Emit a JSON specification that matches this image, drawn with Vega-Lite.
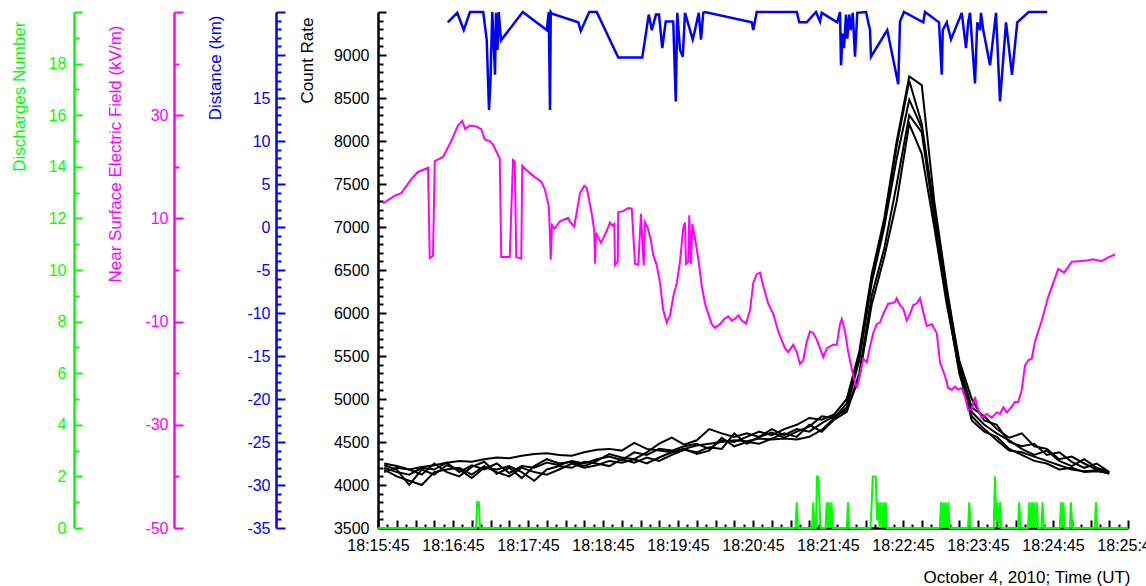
{
  "$schema": "https://vega.github.io/schema/vega-lite/v6.json",
  "width": 750,
  "height": 516,
  "autosize": "none",
  "padding": {"left": 378, "top": 12, "right": 18, "bottom": 58},
  "background": "white",
  "config": {
    "view": {"stroke": null},
    "axis": {"labelFont": "Liberation Sans", "titleFont": "Liberation Sans", "labelFontSize": 16, "titleFontSize": 17, "titleFontWeight": "normal", "grid": false, "domainWidth": 2.5, "tickWidth": 2, "labelOverlap": false, "labelBound": false}
  },
  "datasets": {
    "rate": [
      {"id":1,"s":5,"r":4200},{"id":1,"s":15,"r":4150},{"id":1,"s":25,"r":4120},{"id":1,"s":35,"r":4200},{"id":1,"s":45,"r":4180},{"id":1,"s":55,"r":4260},{"id":1,"s":65,"r":4150},{"id":1,"s":75,"r":4230},{"id":1,"s":85,"r":4180},{"id":1,"s":95,"r":4250},
      {"id":1,"s":105,"r":4140},{"id":1,"s":115,"r":4220},{"id":1,"s":125,"r":4200},{"id":1,"s":135,"r":4260},{"id":1,"s":145,"r":4230},{"id":1,"s":155,"r":4280},{"id":1,"s":165,"r":4250},{"id":1,"s":175,"r":4300},{"id":1,"s":185,"r":4330},{"id":1,"s":195,"r":4290},
      {"id":1,"s":205,"r":4380},{"id":1,"s":215,"r":4350},{"id":1,"s":225,"r":4420},{"id":1,"s":235,"r":4400},{"id":1,"s":245,"r":4450},{"id":1,"s":255,"r":4480},{"id":1,"s":265,"r":4420},{"id":1,"s":275,"r":4520},{"id":1,"s":285,"r":4500},{"id":1,"s":295,"r":4560},
      {"id":1,"s":305,"r":4620},{"id":1,"s":315,"r":4580},{"id":1,"s":325,"r":4650},{"id":1,"s":335,"r":4700},{"id":1,"s":345,"r":4780},{"id":1,"s":355,"r":4760},{"id":1,"s":365,"r":4820},{"id":1,"s":375,"r":5000},{"id":1,"s":385,"r":5550},{"id":1,"s":395,"r":6450},
      {"id":1,"s":405,"r":7100},{"id":1,"s":415,"r":8000},{"id":1,"s":425,"r":8750},{"id":1,"s":435,"r":8650},{"id":1,"s":445,"r":7300},{"id":1,"s":455,"r":6300},{"id":1,"s":465,"r":5400},{"id":1,"s":475,"r":4900},{"id":1,"s":485,"r":4800},{"id":1,"s":495,"r":4650},
      {"id":1,"s":505,"r":4550},{"id":1,"s":515,"r":4600},{"id":1,"s":525,"r":4450},{"id":1,"s":535,"r":4420},{"id":1,"s":545,"r":4300},{"id":1,"s":555,"r":4330},{"id":1,"s":565,"r":4250},{"id":1,"s":575,"r":4180},{"id":1,"s":585,"r":4140},

      {"id":2,"s":5,"r":4150},{"id":2,"s":15,"r":4200},{"id":2,"s":25,"r":4180},{"id":2,"s":35,"r":4120},{"id":2,"s":45,"r":4250},{"id":2,"s":55,"r":4150},{"id":2,"s":65,"r":4100},{"id":2,"s":75,"r":4210},{"id":2,"s":85,"r":4270},{"id":2,"s":95,"r":4130},
      {"id":2,"s":105,"r":4200},{"id":2,"s":115,"r":4080},{"id":2,"s":125,"r":4220},{"id":2,"s":135,"r":4300},{"id":2,"s":145,"r":4250},{"id":2,"s":155,"r":4270},{"id":2,"s":165,"r":4220},{"id":2,"s":175,"r":4280},{"id":2,"s":185,"r":4360},{"id":2,"s":195,"r":4320},
      {"id":2,"s":205,"r":4300},{"id":2,"s":215,"r":4380},{"id":2,"s":225,"r":4480},{"id":2,"s":235,"r":4550},{"id":2,"s":245,"r":4470},{"id":2,"s":255,"r":4520},{"id":2,"s":265,"r":4650},{"id":2,"s":275,"r":4600},{"id":2,"s":285,"r":4560},{"id":2,"s":295,"r":4600},
      {"id":2,"s":305,"r":4560},{"id":2,"s":315,"r":4610},{"id":2,"s":325,"r":4550},{"id":2,"s":335,"r":4620},{"id":2,"s":345,"r":4680},{"id":2,"s":355,"r":4800},{"id":2,"s":365,"r":4780},{"id":2,"s":375,"r":4950},{"id":2,"s":385,"r":5500},{"id":2,"s":395,"r":6400},
      {"id":2,"s":405,"r":7050},{"id":2,"s":415,"r":7950},{"id":2,"s":425,"r":8700},{"id":2,"s":435,"r":8200},{"id":2,"s":445,"r":7200},{"id":2,"s":455,"r":6250},{"id":2,"s":465,"r":5450},{"id":2,"s":475,"r":5000},{"id":2,"s":485,"r":4750},{"id":2,"s":495,"r":4700},
      {"id":2,"s":505,"r":4500},{"id":2,"s":515,"r":4450},{"id":2,"s":525,"r":4480},{"id":2,"s":535,"r":4350},{"id":2,"s":545,"r":4380},{"id":2,"s":555,"r":4270},{"id":2,"s":565,"r":4200},{"id":2,"s":575,"r":4250},{"id":2,"s":585,"r":4150},

      {"id":3,"s":5,"r":4250},{"id":3,"s":15,"r":4220},{"id":3,"s":25,"r":4180},{"id":3,"s":35,"r":4210},{"id":3,"s":45,"r":4230},{"id":3,"s":55,"r":4260},{"id":3,"s":65,"r":4280},{"id":3,"s":75,"r":4270},{"id":3,"s":85,"r":4300},{"id":3,"s":95,"r":4320},
      {"id":3,"s":105,"r":4310},{"id":3,"s":115,"r":4340},{"id":3,"s":125,"r":4360},{"id":3,"s":135,"r":4370},{"id":3,"s":145,"r":4350},{"id":3,"s":155,"r":4340},{"id":3,"s":165,"r":4380},{"id":3,"s":175,"r":4410},{"id":3,"s":185,"r":4420},{"id":3,"s":195,"r":4400},
      {"id":3,"s":205,"r":4490},{"id":3,"s":215,"r":4420},{"id":3,"s":225,"r":4400},{"id":3,"s":235,"r":4380},{"id":3,"s":245,"r":4420},{"id":3,"s":255,"r":4460},{"id":3,"s":265,"r":4480},{"id":3,"s":275,"r":4500},{"id":3,"s":285,"r":4520},{"id":3,"s":295,"r":4510},
      {"id":3,"s":305,"r":4540},{"id":3,"s":315,"r":4530},{"id":3,"s":325,"r":4540},{"id":3,"s":335,"r":4530},{"id":3,"s":345,"r":4560},{"id":3,"s":355,"r":4640},{"id":3,"s":365,"r":4780},{"id":3,"s":375,"r":4900},{"id":3,"s":385,"r":5450},{"id":3,"s":395,"r":6350},
      {"id":3,"s":405,"r":7000},{"id":3,"s":415,"r":7800},{"id":3,"s":425,"r":8480},{"id":3,"s":435,"r":8150},{"id":3,"s":445,"r":7150},{"id":3,"s":455,"r":6200},{"id":3,"s":465,"r":5380},{"id":3,"s":475,"r":4850},{"id":3,"s":485,"r":4700},{"id":3,"s":495,"r":4600},
      {"id":3,"s":505,"r":4520},{"id":3,"s":515,"r":4420},{"id":3,"s":525,"r":4350},{"id":3,"s":535,"r":4400},{"id":3,"s":545,"r":4280},{"id":3,"s":555,"r":4220},{"id":3,"s":565,"r":4300},{"id":3,"s":575,"r":4200},{"id":3,"s":585,"r":4150},

      {"id":4,"s":5,"r":4180},{"id":4,"s":15,"r":4100},{"id":4,"s":25,"r":4050},{"id":4,"s":35,"r":4000},{"id":4,"s":45,"r":4150},{"id":4,"s":55,"r":4180},{"id":4,"s":65,"r":4200},{"id":4,"s":75,"r":4120},{"id":4,"s":85,"r":4220},{"id":4,"s":95,"r":4150},
      {"id":4,"s":105,"r":4100},{"id":4,"s":115,"r":4200},{"id":4,"s":125,"r":4150},{"id":4,"s":135,"r":4120},{"id":4,"s":145,"r":4180},{"id":4,"s":155,"r":4250},{"id":4,"s":165,"r":4200},{"id":4,"s":175,"r":4230},{"id":4,"s":185,"r":4280},{"id":4,"s":195,"r":4260},
      {"id":4,"s":205,"r":4300},{"id":4,"s":215,"r":4250},{"id":4,"s":225,"r":4320},{"id":4,"s":235,"r":4380},{"id":4,"s":245,"r":4420},{"id":4,"s":255,"r":4360},{"id":4,"s":265,"r":4400},{"id":4,"s":275,"r":4550},{"id":4,"s":285,"r":4450},{"id":4,"s":295,"r":4500},
      {"id":4,"s":305,"r":4480},{"id":4,"s":315,"r":4540},{"id":4,"s":325,"r":4600},{"id":4,"s":335,"r":4560},{"id":4,"s":345,"r":4700},{"id":4,"s":355,"r":4620},{"id":4,"s":365,"r":4760},{"id":4,"s":375,"r":4850},{"id":4,"s":385,"r":5300},{"id":4,"s":395,"r":6200},
      {"id":4,"s":405,"r":6750},{"id":4,"s":415,"r":7500},{"id":4,"s":425,"r":8300},{"id":4,"s":435,"r":8100},{"id":4,"s":445,"r":7100},{"id":4,"s":455,"r":6150},{"id":4,"s":465,"r":5300},{"id":4,"s":475,"r":4800},{"id":4,"s":485,"r":4650},{"id":4,"s":495,"r":4520},
      {"id":4,"s":505,"r":4400},{"id":4,"s":515,"r":4380},{"id":4,"s":525,"r":4330},{"id":4,"s":535,"r":4280},{"id":4,"s":545,"r":4230},{"id":4,"s":555,"r":4180},{"id":4,"s":565,"r":4160},{"id":4,"s":575,"r":4170},{"id":4,"s":585,"r":4130},

      {"id":5,"s":5,"r":4230},{"id":5,"s":15,"r":4180},{"id":5,"s":25,"r":4000},{"id":5,"s":35,"r":4180},{"id":5,"s":45,"r":4120},{"id":5,"s":55,"r":4230},{"id":5,"s":65,"r":4180},{"id":5,"s":75,"r":4080},{"id":5,"s":85,"r":4200},{"id":5,"s":95,"r":4180},
      {"id":5,"s":105,"r":4220},{"id":5,"s":115,"r":4150},{"id":5,"s":125,"r":4050},{"id":5,"s":135,"r":4180},{"id":5,"s":145,"r":4220},{"id":5,"s":155,"r":4200},{"id":5,"s":165,"r":4270},{"id":5,"s":175,"r":4250},{"id":5,"s":185,"r":4220},{"id":5,"s":195,"r":4300},
      {"id":5,"s":205,"r":4260},{"id":5,"s":215,"r":4320},{"id":5,"s":225,"r":4280},{"id":5,"s":235,"r":4350},{"id":5,"s":245,"r":4410},{"id":5,"s":255,"r":4380},{"id":5,"s":265,"r":4440},{"id":5,"s":275,"r":4420},{"id":5,"s":285,"r":4600},{"id":5,"s":295,"r":4480},
      {"id":5,"s":305,"r":4560},{"id":5,"s":315,"r":4650},{"id":5,"s":325,"r":4580},{"id":5,"s":335,"r":4650},{"id":5,"s":345,"r":4620},{"id":5,"s":355,"r":4720},{"id":5,"s":365,"r":4800},{"id":5,"s":375,"r":4870},{"id":5,"s":385,"r":5250},{"id":5,"s":395,"r":6100},
      {"id":5,"s":405,"r":6650},{"id":5,"s":415,"r":7300},{"id":5,"s":425,"r":8200},{"id":5,"s":435,"r":7850},{"id":5,"s":445,"r":7000},{"id":5,"s":455,"r":6100},{"id":5,"s":465,"r":5350},{"id":5,"s":475,"r":4750},{"id":5,"s":485,"r":4620},{"id":5,"s":495,"r":4560},
      {"id":5,"s":505,"r":4420},{"id":5,"s":515,"r":4350},{"id":5,"s":525,"r":4280},{"id":5,"s":535,"r":4250},{"id":5,"s":545,"r":4180},{"id":5,"s":555,"r":4200},{"id":5,"s":565,"r":4150},{"id":5,"s":575,"r":4160},{"id":5,"s":585,"r":4140}
    ],
    "field": [
      {"s":4,"v":12.9},{"s":13.4,"v":14.4},{"s":18.6,"v":14.9},{"s":26.6,"v":17.6},{"s":32,"v":19},{"s":40,"v":19.8},{"s":41.4,"v":2.3},{"s":44,"v":2.7},{"s":45.4,"v":21.1},{"s":52,"v":21.9},
      {"s":58.6,"v":25},{"s":64,"v":28},{"s":67.4,"v":28.9},{"s":69.8,"v":27.3},{"s":73.4,"v":28},{"s":78.6,"v":27.8},{"s":82.6,"v":27.3},{"s":85.4,"v":25.3},{"s":89.4,"v":25},{"s":92,"v":24.3},
      {"s":97.4,"v":21.6},{"s":98.6,"v":2.5},{"s":105.4,"v":2.5},{"s":108,"v":21.3},{"s":109.4,"v":21},{"s":110.6,"v":2.5},{"s":114.6,"v":2.2},{"s":115.4,"v":20.2},{"s":118.6,"v":19.4},{"s":125.4,"v":18},
      {"s":130.6,"v":17.1},{"s":133.4,"v":15.7},{"s":136.6,"v":12.4},{"s":137.2,"v":9.1},{"s":138.2,"v":2},{"s":139.2,"v":8.7},{"s":141.4,"v":8},{"s":145.4,"v":9.4},{"s":152,"v":10.1},{"s":153.6,"v":9.3},
      {"s":157,"v":8.4},{"s":161.6,"v":14.9},{"s":165,"v":16.3},{"s":167,"v":15.9},{"s":171,"v":10.9},{"s":173,"v":7.6},{"s":173.6,"v":1.2},{"s":174.4,"v":7.2},{"s":178.4,"v":5.3},{"s":183,"v":7.6},
      {"s":185.6,"v":9.2},{"s":187.4,"v":8.6},{"s":189,"v":8.9},{"s":189.6,"v":1},{"s":191.8,"v":1.6},{"s":192.2,"v":11.2},{"s":196.2,"v":11.4},{"s":200.2,"v":12},{"s":203,"v":11.9},{"s":205.6,"v":1.2},
      {"s":208.2,"v":1},{"s":210.4,"v":10.9},{"s":211.4,"v":5.6},{"s":212.6,"v":0.9},{"s":213.6,"v":9.2},{"s":215.8,"v":8.2},{"s":218.4,"v":5.6},{"s":220.2,"v":2.9},{"s":223,"v":0.9},{"s":225.6,"v":-2.5},
      {"s":228.2,"v":-7.8},{"s":231,"v":-10.2},{"s":233.6,"v":-8.8},{"s":236.2,"v":-5.2},{"s":239,"v":-2.5},{"s":241.6,"v":1.6},{"s":244.2,"v":8.2},{"s":245.6,"v":9.2},{"s":246.4,"v":1.2},{"s":248.2,"v":1.6},
      {"s":249,"v":10.6},{"s":250.4,"v":1.2},{"s":251.4,"v":8.9},{"s":253.6,"v":6.2},{"s":256.2,"v":2.2},{"s":259,"v":-3.1},{"s":261.6,"v":-6.5},{"s":264.2,"v":-8.5},{"s":267,"v":-10.5},{"s":269.6,"v":-11.2},
      {"s":273.6,"v":-10.5},{"s":277,"v":-9.5},{"s":280.2,"v":-9},{"s":283,"v":-9.8},{"s":285.6,"v":-9.5},{"s":288.2,"v":-8.8},{"s":291,"v":-9.8},{"s":294.4,"v":-10.4},{"s":297.6,"v":-7.8},{"s":300.2,"v":-2.5},
      {"s":303,"v":-0.8},{"s":305.6,"v":-0.5},{"s":308.2,"v":-3.1},{"s":312.2,"v":-6.5},{"s":316.2,"v":-8.5},{"s":320.2,"v":-11.9},{"s":325.6,"v":-15.2},{"s":328.2,"v":-15.9},{"s":332.2,"v":-14.5},{"s":335,"v":-15.9},
      {"s":337.6,"v":-18.2},{"s":340.2,"v":-17.5},{"s":343,"v":-13.9},{"s":345.6,"v":-11.9},{"s":348.2,"v":-12.2},{"s":351,"v":-13.5},{"s":353.6,"v":-15.2},{"s":356.2,"v":-16.9},{"s":359,"v":-15.2},{"s":361.6,"v":-14.8},
      {"s":364.2,"v":-14.5},{"s":367,"v":-14.5},{"s":369.6,"v":-10.5},{"s":371,"v":-9.5},{"s":373.6,"v":-11.9},{"s":376.2,"v":-15.9},{"s":380.2,"v":-20.5},{"s":383,"v":-22.9},{"s":385.6,"v":-20.2},{"s":388.2,"v":-17.2},
      {"s":391,"v":-17.9},{"s":393.6,"v":-14.8},{"s":396.2,"v":-12.2},{"s":399,"v":-10.5},{"s":401.6,"v":-10.2},{"s":404.2,"v":-8.5},{"s":408.2,"v":-6.5},{"s":411,"v":-6.5},{"s":413.6,"v":-6.2},{"s":415,"v":-5.5},
      {"s":417.6,"v":-6.8},{"s":420.2,"v":-7.5},{"s":423,"v":-9.8},{"s":425.6,"v":-8.5},{"s":428.2,"v":-6.8},{"s":431,"v":-6.5},{"s":433.6,"v":-5.5},{"s":436.2,"v":-8.2},{"s":439,"v":-10.9},{"s":443,"v":-10.5},
      {"s":447,"v":-12.2},{"s":449.6,"v":-17.9},{"s":453.6,"v":-20.5},{"s":456.2,"v":-22.9},{"s":459,"v":-23.2},{"s":461.6,"v":-22.6},{"s":464.2,"v":-23.2},{"s":467,"v":-22.9},{"s":469.6,"v":-24.6},{"s":472.2,"v":-27.2},
      {"s":475,"v":-26.9},{"s":477.6,"v":-24.6},{"s":480.2,"v":-27.2},{"s":483,"v":-28.6},{"s":487,"v":-27.9},{"s":491,"v":-28.6},{"s":495,"v":-27.6},{"s":497.6,"v":-27.9},{"s":500.2,"v":-26.6},{"s":503,"v":-27.6},
      {"s":505.6,"v":-26.9},{"s":509.6,"v":-25.6},{"s":512.2,"v":-25.6},{"s":515,"v":-23.2},{"s":517.6,"v":-18.5},{"s":520.2,"v":-17.5},{"s":523,"v":-17.2},{"s":525.6,"v":-13.9},{"s":531,"v":-9.8},{"s":536.2,"v":-5.2},
      {"s":540.2,"v":-2.5},{"s":544.2,"v":0.2},{"s":549,"v":-0.5},{"s":555,"v":1.6},{"s":560.2,"v":1.7},{"s":568.2,"v":1.9},{"s":572.2,"v":2.1},{"s":579,"v":1.7},{"s":584.6,"v":2.5},{"s":589.6,"v":3}
    ],
    "dist": [
      {"s":55.8,"k":23.8},{"s":63.4,"k":24.9},{"s":68.6,"k":22.9},{"s":73.6,"k":25},{"s":84.2,"k":25},{"s":87,"k":21.7},{"s":88.8,"k":13.6},{"s":90,"k":17.1},{"s":91.4,"k":25},{"s":92.8,"k":20.6},
      {"s":93.6,"k":17.7},{"s":94.4,"k":24.9},{"s":95.6,"k":20.6},{"s":96.6,"k":25},{"s":98.4,"k":21.7},{"s":115.8,"k":25},{"s":135,"k":22.9},{"s":136.6,"k":25},{"s":137.6,"k":13.6},{"s":138.2,"k":25},
      {"s":139.2,"k":24.8},{"s":160.2,"k":23.8},{"s":162.2,"k":22.8},{"s":169,"k":25},{"s":175,"k":25},{"s":192.2,"k":19.7},{"s":211.4,"k":19.7},{"s":216.6,"k":24.7},{"s":219,"k":22.9},{"s":222.4,"k":24.7},
      {"s":224.8,"k":24.7},{"s":227.4,"k":20.8},{"s":230.2,"k":23.9},{"s":236.2,"k":23.9},{"s":238.2,"k":14.6},{"s":239.4,"k":24.9},{"s":241.6,"k":20.6},{"s":243.8,"k":19.8},{"s":245.6,"k":24.9},{"s":251.8,"k":21.8},
      {"s":253.6,"k":22.9},{"s":256.6,"k":24.9},{"s":258.4,"k":21.8},{"s":260.2,"k":24.9},{"s":261.6,"k":25},{"s":299,"k":23.8},{"s":300.2,"k":22.9},{"s":303,"k":25},{"s":335,"k":25},{"s":337,"k":23.8},
      {"s":343,"k":23.8},{"s":350.4,"k":25},{"s":353.6,"k":23.9},{"s":355,"k":24.9},{"s":367.4,"k":23.8},{"s":369.6,"k":25},{"s":370.4,"k":18.8},{"s":371.8,"k":22.5},{"s":372.8,"k":20.8},{"s":374.4,"k":24.7},
      {"s":375.4,"k":21.9},{"s":377,"k":24.7},{"s":378.2,"k":22.9},{"s":379.8,"k":24.9},{"s":381.6,"k":19.8},{"s":383.4,"k":24.9},{"s":390.4,"k":25},{"s":393.6,"k":22.9},{"s":394.4,"k":19.8},{"s":407.4,"k":22.9},
      {"s":416.2,"k":16.6},{"s":417.6,"k":23.9},{"s":420.8,"k":25},{"s":436.2,"k":23.8},{"s":437.6,"k":25},{"s":448.8,"k":23.8},{"s":451,"k":17.7},{"s":451.8,"k":22.9},{"s":455,"k":23.8},{"s":458.4,"k":21.8},
      {"s":467,"k":24.9},{"s":470.4,"k":20.8},{"s":472.2,"k":23.9},{"s":473.6,"k":24.9},{"s":477.6,"k":16.7},{"s":479.4,"k":23.8},{"s":481.6,"k":22.9},{"s":482.4,"k":24.9},{"s":484.2,"k":22.9},{"s":489.6,"k":18.8},
      {"s":494.4,"k":24.9},{"s":497.6,"k":14.6},{"s":502.4,"k":23.8},{"s":507.2,"k":17.7},{"s":511.4,"k":23.8},{"s":520.6,"k":25},{"s":535.4,"k":25}
    ],
    "dis": [
      {"s":0,"n":0},{"s":78.5,"n":0},{"s":79.3,"n":1},{"s":80.7,"n":1},{"s":81.5,"n":0},
      {"s":334,"n":0},{"s":335,"n":1},{"s":336,"n":0},
      {"s":347.2,"n":0},{"s":348.2,"n":1},{"s":349.2,"n":0},{"s":350.3,"n":0},{"s":351.2,"n":2},{"s":352.2,"n":2},{"s":353.2,"n":1},{"s":354,"n":0},
      {"s":358,"n":0},{"s":359,"n":1},{"s":360,"n":0},{"s":360.8,"n":1},{"s":361.8,"n":0},{"s":362.8,"n":1},{"s":363.8,"n":0},
      {"s":375,"n":0},{"s":376,"n":1},{"s":377,"n":0},
      {"s":394,"n":0},{"s":395,"n":1},{"s":395.8,"n":2},{"s":397,"n":2},{"s":398.2,"n":2},{"s":399.2,"n":0.3},{"s":400.3,"n":1},{"s":401.2,"n":0},{"s":402.2,"n":1},{"s":403.2,"n":0},{"s":404.3,"n":1},{"s":405.2,"n":0},{"s":406.2,"n":1},{"s":407.2,"n":0},
      {"s":449.4,"n":0},{"s":450.4,"n":1},{"s":451.3,"n":0},{"s":452.3,"n":1},{"s":453.2,"n":0},{"s":454.2,"n":1},{"s":455.3,"n":0},{"s":456.3,"n":1},{"s":457.3,"n":0},
      {"s":472,"n":0},{"s":473,"n":1},{"s":474,"n":0},
      {"s":492.6,"n":0},{"s":493.6,"n":2},{"s":494.5,"n":0.3},{"s":495.4,"n":1},{"s":496.4,"n":0},{"s":497.6,"n":1},{"s":498.6,"n":0},
      {"s":512,"n":0},{"s":513,"n":1},{"s":514,"n":0},
      {"s":520,"n":0},{"s":521,"n":1},{"s":522,"n":0},{"s":523,"n":1},{"s":524,"n":0},{"s":524.8,"n":1},{"s":525.8,"n":0},{"s":527,"n":1},{"s":528,"n":0},
      {"s":530.7,"n":0},{"s":531.7,"n":1},{"s":532.7,"n":0},
      {"s":545.4,"n":0},{"s":546.4,"n":1},{"s":547.4,"n":0},{"s":548.3,"n":1},{"s":549.3,"n":0},
      {"s":553.4,"n":0},{"s":554.4,"n":1},{"s":555.4,"n":0},
      {"s":573.4,"n":0},{"s":574.4,"n":1},{"s":575.4,"n":0},
      {"s":600,"n":0}
    ]
  },
  "encoding": {
    "x": {
      "field": "s", "type": "quantitative",
      "scale": {"domain": [0, 600], "nice": false, "zero": false},
      "axis": {
        "values": [0,7.5,15,22.5,30,37.5,45,52.5,60,67.5,75,82.5,90,97.5,105,112.5,120,127.5,135,142.5,150,157.5,165,172.5,180,187.5,195,202.5,210,217.5,225,232.5,240,247.5,255,262.5,270,277.5,285,292.5,300,307.5,315,322.5,330,337.5,345,352.5,360,367.5,375,382.5,390,397.5,405,412.5,420,427.5,435,442.5,450,457.5,465,472.5,480,487.5,495,502.5,510,517.5,525,532.5,540,547.5,555,562.5,570,577.5,585,592.5,600],
        "labelExpr": "datum.value % 60 === 0 ? timeFormat(datetime(2010, 9, 4, 18, 15, 45 + datum.value), '%H:%M:%S') : ''",
        "labelFlush": false,
        "tickSize": {"condition": {"test": "datum.value % 15 === 0", "value": -8}, "value": -4},
        "labelPadding": 17,
        "domainColor": "black", "tickColor": "black", "labelColor": "black", "titleColor": "black",
        "title": "October 4, 2010; Time (UT)",
        "titleX": 752, "titleY": 54, "titleAlign": "right", "titleBaseline": "alphabetic", "titleAnchor": "end"
      }
    }
  },
  "layer": [
    {
      "data": {"name": "rate"},
      "mark": {"type": "line", "color": "black", "strokeWidth": 2},
      "encoding": {
        "detail": {"field": "id", "type": "nominal"},
        "y": {
          "field": "r", "type": "quantitative",
          "scale": {"domain": [3500, 9500], "nice": false, "zero": false},
          "axis": {
            "orient": "left", "offset": 0,
            "values": [3500,3600,3700,3800,3900,4000,4100,4200,4300,4400,4500,4600,4700,4800,4900,5000,5100,5200,5300,5400,5500,5600,5700,5800,5900,6000,6100,6200,6300,6400,6500,6600,6700,6800,6900,7000,7100,7200,7300,7400,7500,7600,7700,7800,7900,8000,8100,8200,8300,8400,8500,8600,8700,8800,8900,9000,9100,9200,9300,9400,9500],
            "labelExpr": "datum.value % 500 === 0 && datum.value < 9500 ? '' + datum.value : ''",
            "tickSize": {"condition": {"test": "datum.value % 500 === 0", "value": -8}, "value": -5},
            "labelPadding": 17,
            "domainColor": "black", "tickColor": "black", "labelColor": "black", "titleColor": "black",
            "title": "Count Rate", "titleX": -71, "titleY": 5, "titleAlign": "right", "titleBaseline": "middle", "titleAngle": -90
          }
        }
      }
    },
    {
      "data": {"name": "field"},
      "mark": {"type": "line", "color": "#ff00ff", "strokeWidth": 2},
      "encoding": {
        "y": {
          "field": "v", "type": "quantitative",
          "scale": {"domain": [-50, 50], "nice": false, "zero": false},
          "axis": {
            "orient": "left", "offset": 204,
            "values": [-50,-40,-30,-20,-10,0,10,20,30,40,50],
            "labelExpr": "(datum.value + 50) % 20 === 0 && datum.value <= 30 ? '' + datum.value : ''",
            "tickSize": {"condition": {"test": "(datum.value + 50) % 20 === 0", "value": -9}, "value": -5},
            "labelPadding": 15,
            "domainColor": "#ff00ff", "tickColor": "#ff00ff", "labelColor": "#ff00ff", "titleColor": "#ff00ff",
            "title": "Near Surface Electric Field (kV/m)", "titleX": -59, "titleY": 13, "titleAlign": "right", "titleBaseline": "middle", "titleAngle": -90
          }
        }
      }
    },
    {
      "data": {"name": "dist"},
      "mark": {"type": "line", "color": "#0000ff", "strokeWidth": 2.5},
      "encoding": {
        "y": {
          "field": "k", "type": "quantitative",
          "scale": {"domain": [-35, 25], "nice": false, "zero": false},
          "axis": {
            "orient": "left", "offset": 102,
            "values": [-35,-34,-33,-32,-31,-30,-29,-28,-27,-26,-25,-24,-23,-22,-21,-20,-19,-18,-17,-16,-15,-14,-13,-12,-11,-10,-9,-8,-7,-6,-5,-4,-3,-2,-1,0,1,2,3,4,5,6,7,8,9,10,11,12,13,14,15,16,17,18,19,20,21,22,23,24,25],
            "labelExpr": "datum.value % 5 === 0 && datum.value <= 15 ? '' + datum.value : ''",
            "tickSize": {"condition": {"test": "datum.value % 5 === 0", "value": -9}, "value": -5},
            "labelPadding": 15,
            "domainColor": "#0000ff", "tickColor": "#0000ff", "labelColor": "#0000ff", "titleColor": "#0000ff",
            "title": "Distance (km)", "titleX": -61, "titleY": 3, "titleAlign": "right", "titleBaseline": "middle", "titleAngle": -90
          }
        }
      }
    },
    {
      "data": {"name": "dis"},
      "mark": {"type": "line", "color": "#00ff00", "strokeWidth": 2},
      "encoding": {
        "y": {
          "field": "n", "type": "quantitative",
          "scale": {"domain": [0, 20], "nice": false, "zero": false},
          "axis": {
            "orient": "left", "offset": 304,
            "values": [0,1,2,3,4,5,6,7,8,9,10,11,12,13,14,15,16,17,18,19,20],
            "labelExpr": "datum.value % 2 === 0 && datum.value <= 18 ? '' + datum.value : ''",
            "tickSize": {"condition": {"test": "datum.value % 2 === 0", "value": -8}, "value": -5},
            "labelPadding": 16,
            "domainColor": "#00ff00", "tickColor": "#00ff00", "labelColor": "#00ff00", "titleColor": "#00ff00",
            "title": "Discharges Number", "titleX": -55, "titleY": 9, "titleAlign": "right", "titleBaseline": "middle", "titleAngle": -90
          }
        }
      }
    }
  ],
  "resolve": {"scale": {"y": "independent"}}
}
